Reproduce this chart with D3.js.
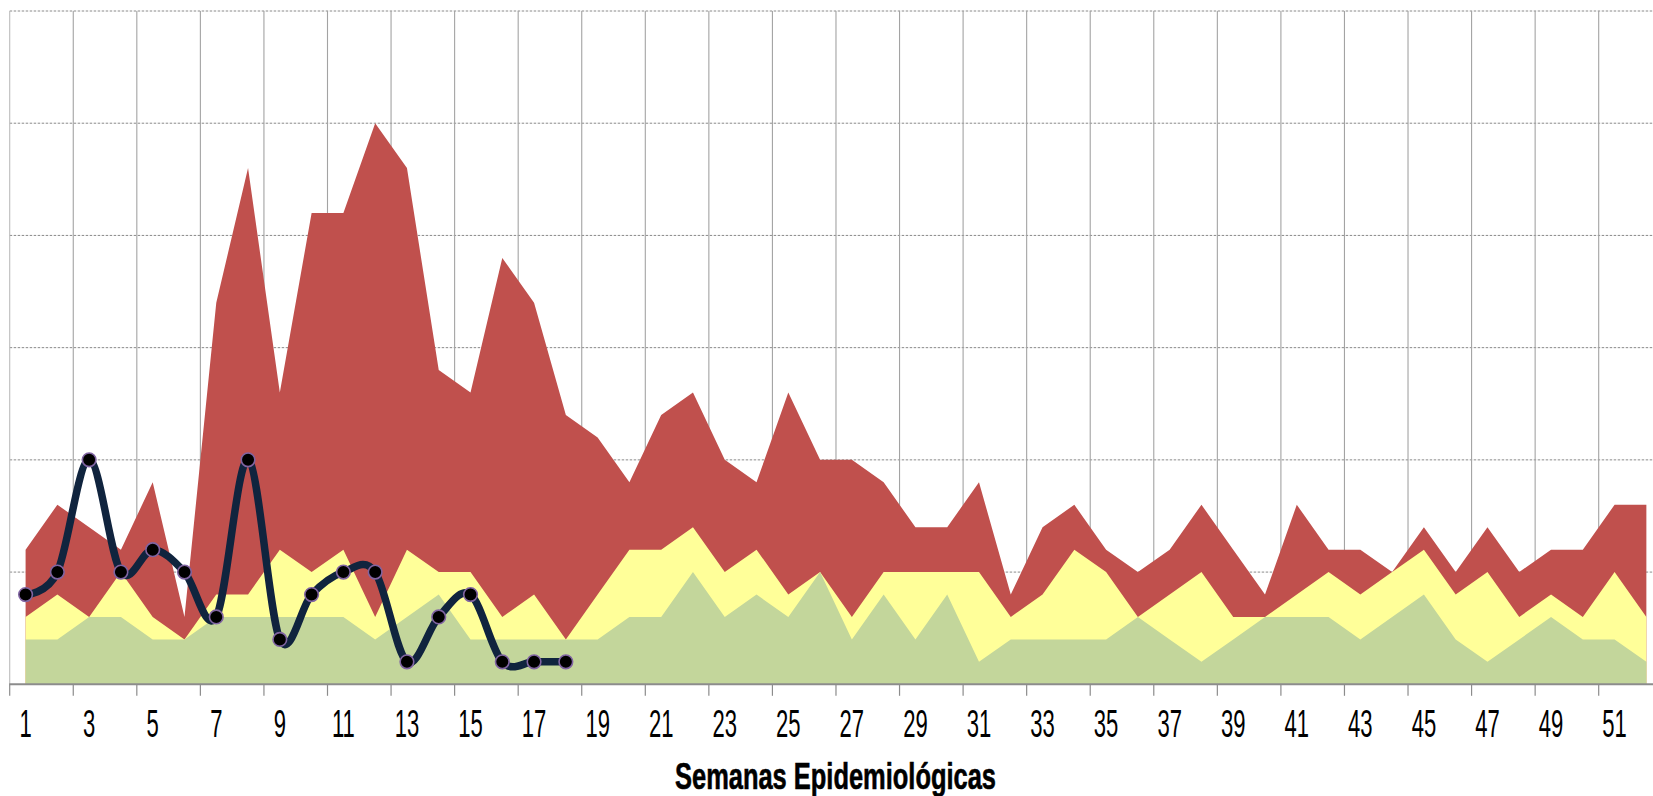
<!DOCTYPE html>
<html>
<head>
<meta charset="utf-8">
<script src="https://cdn.jsdelivr.net/npm/d3@7"></script>
<style>
  html, body { margin: 0; padding: 0; background: #ffffff; overflow: hidden; }
  svg { display: block; }
</style>
</head>
<body>
<svg id="chart" width="1653" height="796"></svg>
<script>
// ---- data (epidemiological weeks) ----
const weeks = d3.range(1, 53);
const tickWeeks = weeks.filter(w => w % 2 === 1);
const yTicks = [0, 5, 10, 15, 20, 25, 30];
// upper (epidemic) band
const redZone = [6,8,7,6,9,3,17,23,13,21,21,25,23,14,13,19,17,12,11,9,12,13,10,9,13,10,10,9,7,7,9,4,7,8,6,5,6,8,6,4,8,6,6,5,7,5,7,5,6,6,8,8];
// alert band
const yellowZone = [3,4,3,5,3,2,4,4,6,5,6,3,6,5,5,3,4,2,4,6,6,7,5,6,4,5,3,5,5,5,5,3,4,6,5,3,4,5,3,3,4,5,4,5,6,4,5,3,4,3,5,3];
// safety band
const greenZone = [2,2,3,3,2,2,3,3,3,3,3,2,3,4,2,2,2,2,2,3,3,5,3,4,3,5,2,4,2,4,1,2,2,2,2,3,2,1,2,3,3,3,2,3,4,2,1,2,3,2,2,1];
// current year cases
const currentCases = [4,5,10,5,6,5,3,10,2,4,5,5,1,3,4,1,1,1];
const xTitle = "Semanas Epidemiológicas";

// ---- layout ----
const svg = d3.select("#chart");
const plotLeft = 9.7, bandW = 31.78;
const plotTop = 11, plotBottom = 684.3;

const x = d3.scaleBand().domain(weeks).range([plotLeft, plotLeft + weeks.length * bandW]).padding(0);
const cx = w => x(w) + x.bandwidth() / 2;
const y = d3.scaleLinear().domain([0, 30]).range([plotBottom, plotTop]);

// horizontal dashed gridlines
svg.append("g").selectAll("line").data(yTicks.filter(v => v > 0)).join("line")
  .attr("x1", plotLeft).attr("x2", 1653)
  .attr("y1", d => y(d)).attr("y2", d => y(d))
  .attr("stroke", "#8a8a8a").attr("stroke-width", 1)
  .attr("stroke-dasharray", "2.5,1.5");

// vertical gridlines at left edge of odd weeks
svg.append("g").selectAll("line").data(tickWeeks).join("line")
  .attr("x1", d => x(d)).attr("x2", d => x(d))
  .attr("y1", plotTop).attr("y2", plotBottom)
  .attr("stroke", d => d === 1 ? "#bdbdbd" : "#a3a3a3").attr("stroke-width", 1.1);

// areas (overlapping, not stacked)
function area(vals) {
  return d3.area()
    .x((d, i) => cx(weeks[i]))
    .y0(y(0))
    .y1(d => y(d))(vals);
}
svg.append("path").attr("d", area(redZone)).attr("fill", "#c0504d");
svg.append("path").attr("d", area(yellowZone)).attr("fill", "#ffff99");
svg.append("path").attr("d", area(greenZone)).attr("fill", "#c3d69b");

// x axis line
svg.append("line")
  .attr("x1", plotLeft - 0.5).attr("x2", 1653)
  .attr("y1", plotBottom).attr("y2", plotBottom)
  .attr("stroke", "#8c8c8c").attr("stroke-width", 2);

// tick marks at band edges
svg.append("g").selectAll("line").data(tickWeeks).join("line")
  .attr("x1", d => x(d)).attr("x2", d => x(d))
  .attr("y1", plotBottom).attr("y2", plotBottom + 11.5)
  .attr("stroke", "#8c8c8c").attr("stroke-width", 1.2);

// tick labels (narrow condensed look)
const axis = d3.axisBottom(x).tickValues(tickWeeks).tickSize(0).tickPadding(0);
const gAxis = svg.append("g").call(axis);
gAxis.select(".domain").remove();
gAxis.selectAll(".tick text")
  .attr("y", 0).attr("dy", null)
  .attr("font-family", "'Liberation Sans', Arial, sans-serif")
  .attr("font-size", 38)
  .attr("fill", "#000")
  .attr("text-anchor", "middle")
  .attr("transform", `translate(0,${737}) scale(0.58,1)`);

// line of current cases
const line = d3.line()
  .x((d, i) => cx(weeks[i]))
  .y(d => y(d))
  .curve(d3.curveCardinal.tension(0));
svg.append("path").attr("d", line(currentCases))
  .attr("fill", "none").attr("stroke", "#10243e").attr("stroke-width", 7.5)
  .attr("stroke-linejoin", "round").attr("stroke-linecap", "round");
svg.append("g").selectAll("circle").data(currentCases).join("circle")
  .attr("cx", (d, i) => cx(weeks[i])).attr("cy", d => y(d))
  .attr("r", 6.8).attr("fill", "#000").attr("stroke", "#8064a2").attr("stroke-width", 1.6);

// axis title
const title = svg.append("text")
  .text(xTitle)
  .attr("font-family", "'Liberation Sans', Arial, sans-serif")
  .attr("font-weight", "bold")
  .attr("font-size", 37)
  .attr("fill", "#000")
  .attr("stroke", "#000").attr("stroke-width", 0.6)
  .attr("text-anchor", "middle");
const tw = title.node().getComputedTextLength();
const sx = 321 / tw;
title.attr("transform", `translate(835.5,789) scale(${sx},1)`);
</script>
</body>
</html>
